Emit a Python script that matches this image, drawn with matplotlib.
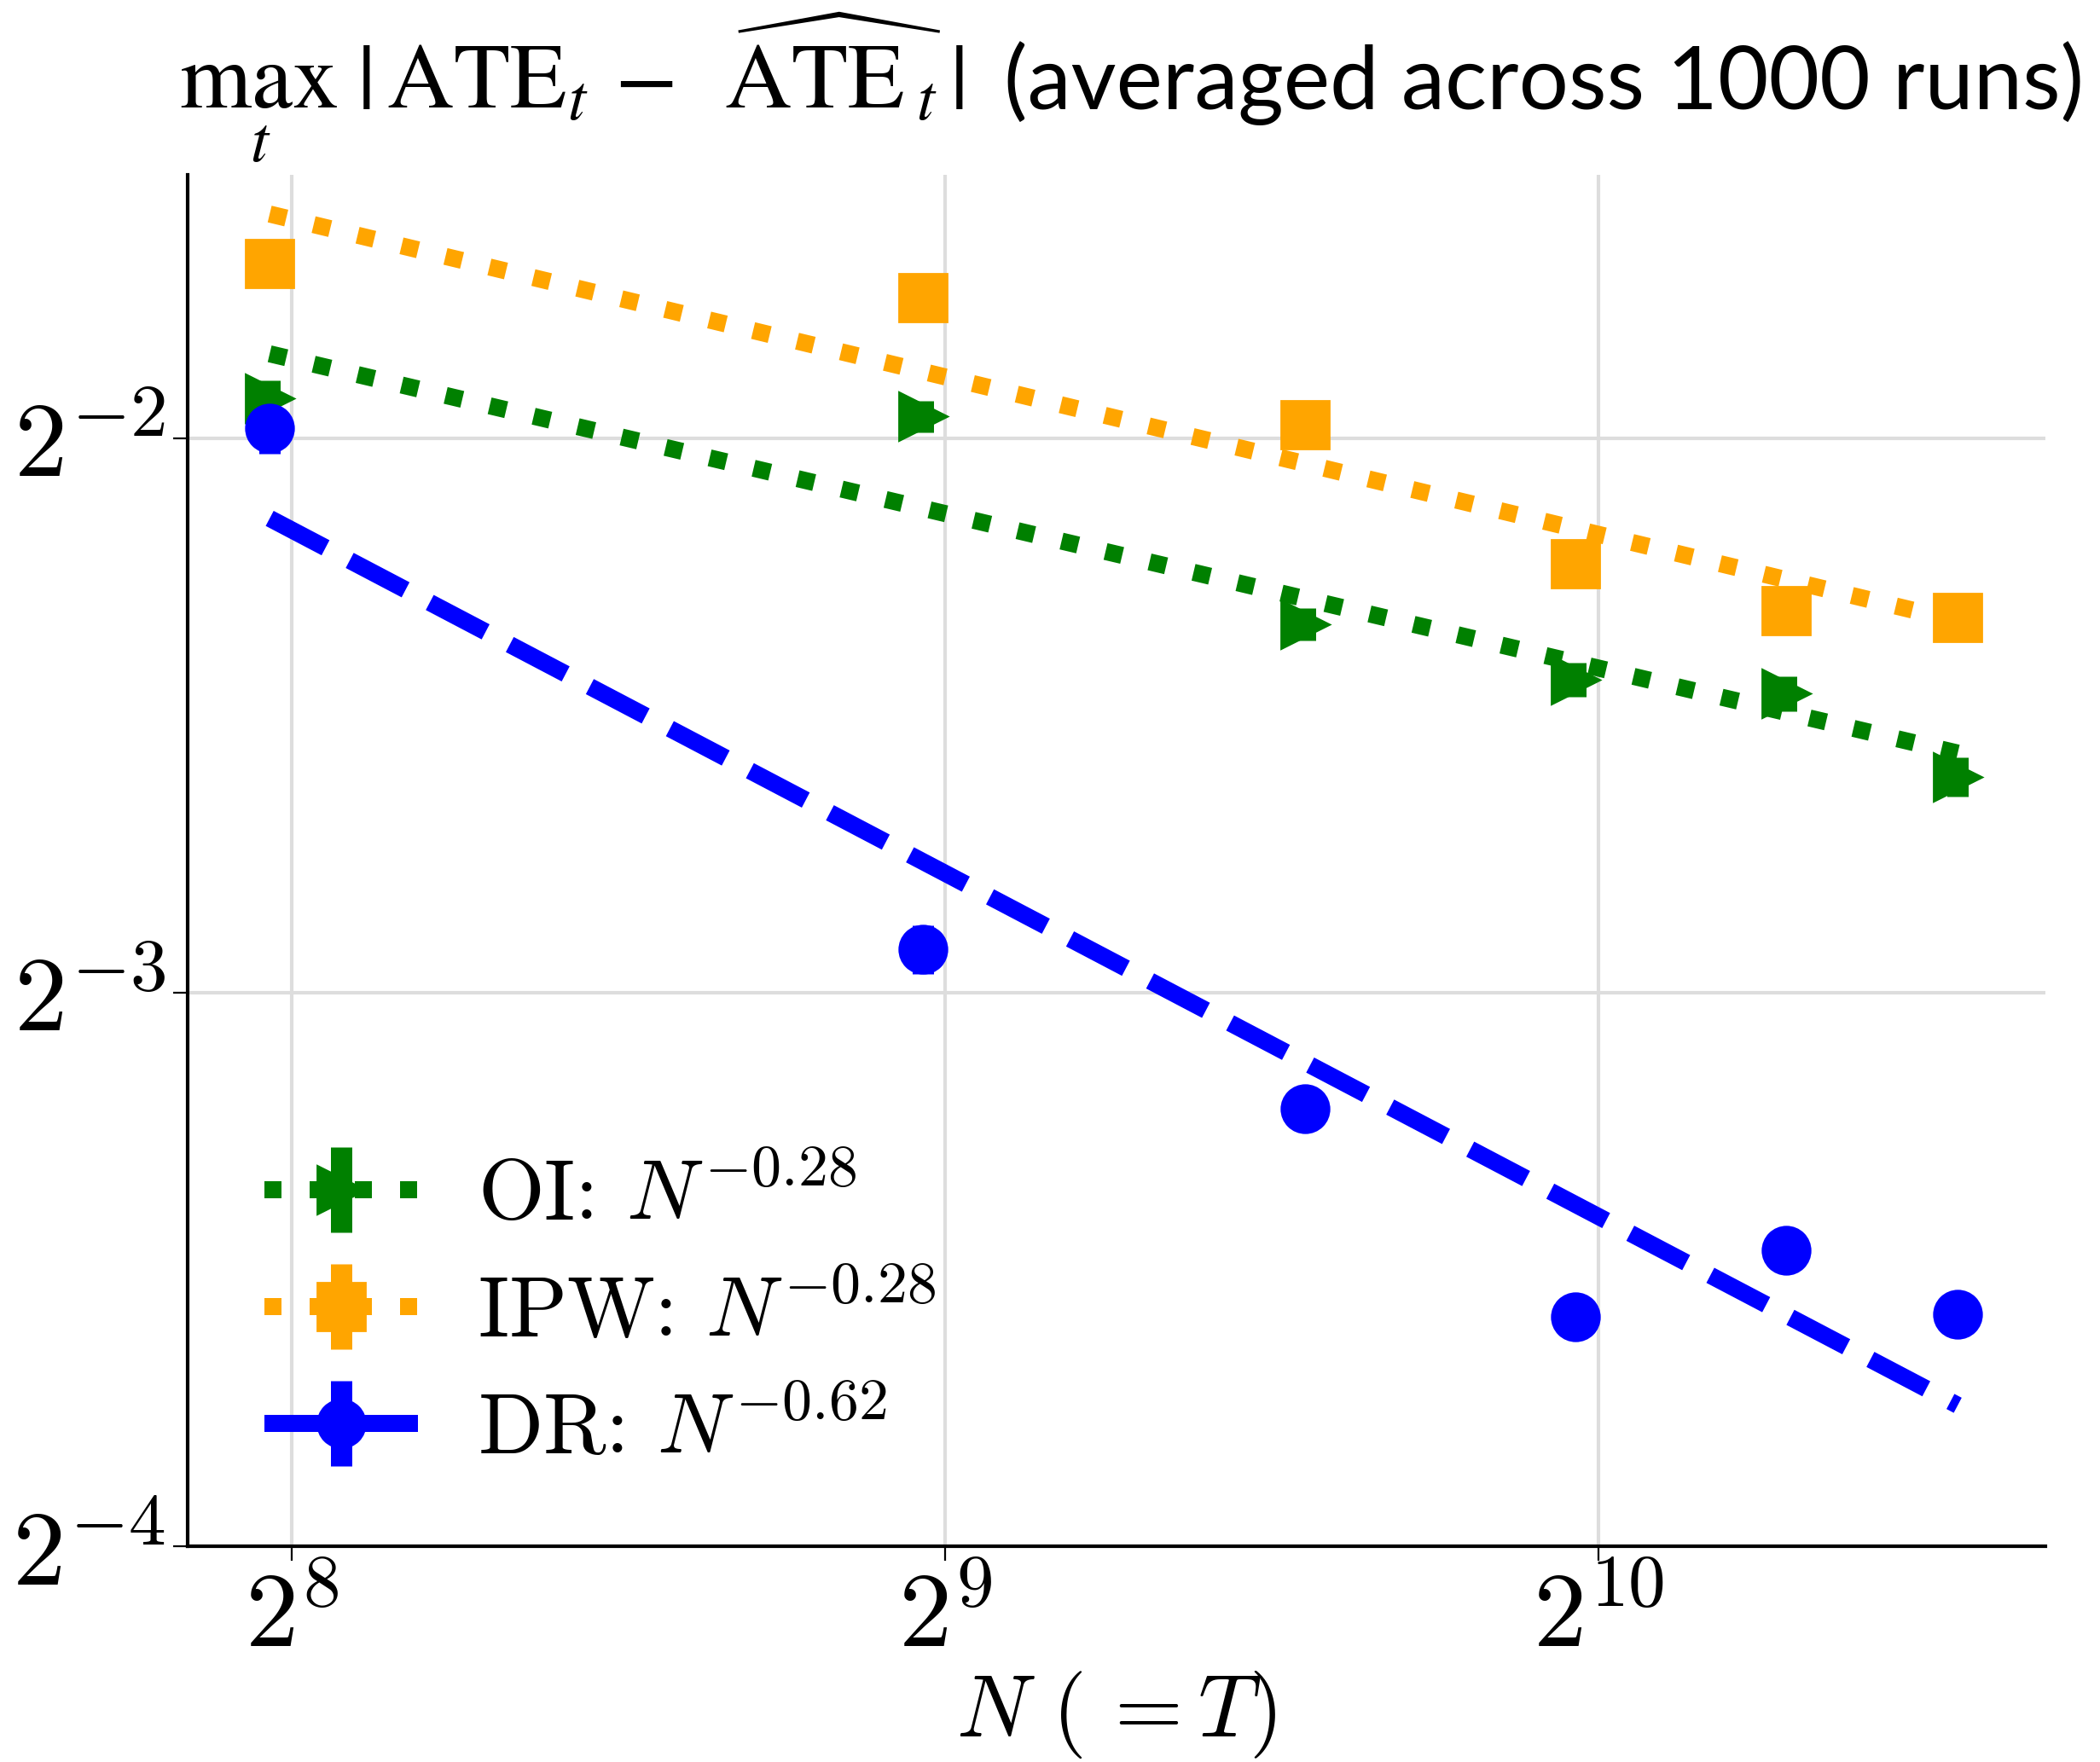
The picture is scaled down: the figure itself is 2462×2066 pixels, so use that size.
import numpy as np
import matplotlib.pyplot as plt
from matplotlib.font_manager import FontProperties
from matplotlib.legend_handler import HandlerTuple
from matplotlib.ticker import NullLocator

plt.rcParams['mathtext.fontset'] = 'cm'
plt.rcParams['font.family'] = ['Lato', 'DejaVu Sans']

# 样本量 N (= T)
N = [250, 500, 750, 1000, 1250, 1500]

# max_t |ATE_t - ATE_t 估计| 的平均值，以及标准误
oi_err = [0.2628, 0.2569, 0.1981, 0.1849, 0.1816, 0.1637]
oi_se = [0.006, 0.005, 0.004, 0.004, 0.004, 0.004]
ipw_err = [0.3112, 0.2981, 0.2542, 0.2136, 0.2014, 0.1997]
ipw_se = [0.008, 0.007, 0.006, 0.005, 0.005, 0.005]
dr_err = [0.2533, 0.1319, 0.1081, 0.0833, 0.0905, 0.0836]
dr_se = [0.008, 0.004, 0.003, 0.002, 0.002, 0.002]

methods = ['OI', 'IPW', 'DR']
rates = ['-0.28', '-0.28', '-0.62']
x_exp = [8, 9, 10]
y_exp = [-4, -3, -2]

colors = ['green', 'orange', 'blue']
markers = ['>', 's', 'o']
styles = [':', ':', '--']

fig = plt.figure(figsize=(12.31, 10.33), dpi=200)
ax = fig.add_axes([0.0893, 0.1223, 0.974 - 0.0893, 0.901 - 0.1223])

handles = []
for name, rate, err, se, c, m, ls in zip(methods, rates, [oi_err, ipw_err, dr_err],
                                         [oi_se, ipw_se, dr_se], colors, markers, styles):
    eb = ax.errorbar(N, err, yerr=se, fmt=m, color=c, ms=20, elinewidth=9,
                     capsize=0, ls='none')
    # 对数空间线性拟合
    k, b = np.polyfit(np.log2(N), np.log2(err), 1)
    fit = 2 ** (b + k * np.log2(N))
    ln, = ax.plot(N, fit, ls=ls, color=c, lw=7.2)
    handles.append(((ln, eb), r'%s: $N^{%s}$' % (name, rate)))

ax.set_xscale('log', base=2)
ax.set_yscale('log', base=2)
ax.set_xlim(2 ** 7.84, 2 ** 10.685)
ax.set_ylim(2 ** -4, 2 ** -1.524)
ax.set_xticks([2.0 ** e for e in x_exp])
ax.set_xticklabels([r'$2^{%d}$' % e for e in x_exp])
ax.set_yticks([2.0 ** e for e in y_exp])
ax.set_yticklabels([r'$2^{%d}$' % e for e in y_exp])
ax.xaxis.set_minor_locator(NullLocator())
ax.yaxis.set_minor_locator(NullLocator())
ax.tick_params(labelsize=45, length=6, width=0.8)

ax.grid(True, color='#dddddd', lw=1.5)
ax.set_axisbelow(True)
for s in ['top', 'right']:
    ax.spines[s].set_visible(False)
for s in ['left', 'bottom']:
    ax.spines[s].set_linewidth(1.5)

ax.set_xlabel(r'$N\ (\,=T)$', fontsize=37, labelpad=2)

ax.legend([h for h, _ in handles], [l for _, l in handles],
          handler_map={tuple: HandlerTuple(ndivide=1)},
          loc='lower left', frameon=False,
          prop=FontProperties(family='cmr10', size=36),
          handlelength=1.8, handletextpad=0.7, labelspacing=0.45)

# 标题：公式部分用 Times 风格，文字部分用无衬线字体
math_fp = FontProperties(family='Lato', size=39)
math_fp.set_math_fontfamily('stix')
fig.text(0.459, 1 - 128 / 2066,
         r'$\max_t\;|\,\mathrm{ATE}_t - \ \widehat{\,\mathrm{ATE}\,}_t\,|$',
         ha='right', va='baseline', fontproperties=math_fp)
fig.text(0.478, 1 - 128 / 2066, '(averaged across 1000 runs)',
         ha='left', va='baseline', fontproperties=FontProperties(family='Lato', size=37))

fig.savefig('out.png', dpi=200)
